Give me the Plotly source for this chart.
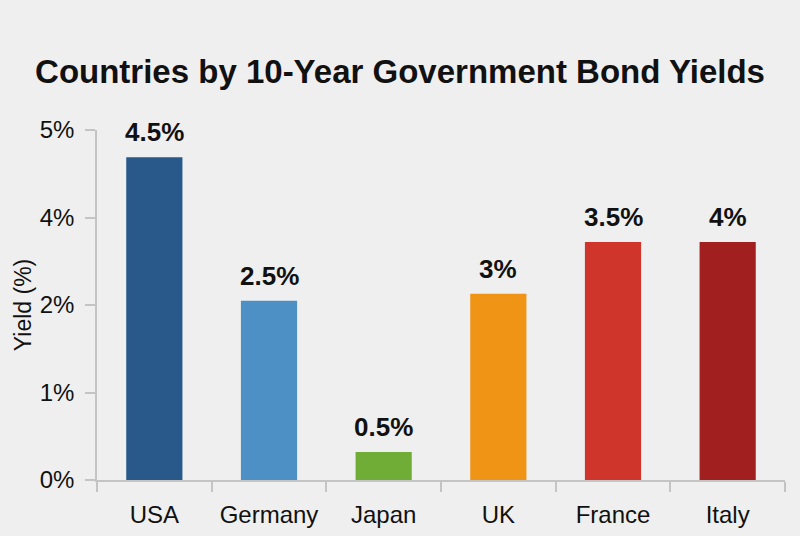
import plotly.graph_objects as go

countries = ["USA", "Germany", "Japan", "UK", "France", "Italy"]
# bar heights as drawn, in axis position units (axis tick labels are non-linear)
bar_heights = [3.69, 2.05, 0.32, 2.13, 2.72, 2.72]
value_labels = ["4.5%", "2.5%", "0.5%", "3%", "3.5%", "4%"]
colors = ["#28598a", "#4d90c6", "#70ad36", "#ef9415", "#d0352c", "#a11f1f"]
tick_positions = [0, 1, 2, 3, 4]
tick_labels = ["0%", "1%", "2%", "4%", "5%"]

FONT = "Liberation Sans, Arial, sans-serif"

fig = go.Figure()
fig.add_trace(go.Bar(
    x=countries, y=bar_heights,
    marker=dict(color=colors, line=dict(width=0)),
    hoverinfo="skip",
))

for c, h, t in zip(countries, bar_heights, value_labels):
    fig.add_annotation(x=c, y=h, text=f"<b>{t}</b>", showarrow=False,
                       yanchor="bottom", yshift=8,
                       font=dict(family=FONT, size=26, color="#111111"))

fig.update_layout(
    width=800, height=536,
    paper_bgcolor="#efefef", plot_bgcolor="#efefef",
    margin=dict(l=97, r=15, t=130, b=56),
    bargap=0.51,
    showlegend=False,
    title=dict(text="<b>Countries by 10-Year Government Bond Yields</b>",
               x=0.5, xanchor="center", y=0.866, yanchor="middle",
               font=dict(family=FONT, size=33, color="#111111")),
    font=dict(family=FONT, color="#111111"),
)

fig.update_xaxes(
    type="category", tickson="boundaries", automargin=False,
    ticks="outside", ticklen=10, tickcolor="#c4c4c4", tickwidth=1.5,
    showline=True, linecolor="#c4c4c4", linewidth=1.5,
    showgrid=False, tickfont=dict(family=FONT, size=24, color="#111111"),
    ticklabelstandoff=12,
)
fig.update_yaxes(
    range=[0, 4], tickvals=tick_positions, ticktext=tick_labels,
    automargin=False,
    ticks="outside", ticklen=10, tickcolor="#c4c4c4", tickwidth=1.5,
    showline=True, linecolor="#c4c4c4", linewidth=1.5,
    showgrid=False, zeroline=False,
    tickfont=dict(family=FONT, size=24, color="#111111"),
    ticklabelstandoff=6,
    title=dict(text="Yield (%)", font=dict(family=FONT, size=23, color="#111111"), standoff=2),
)

fig.write_html("out.html", config={"displayModeBar": False},
               post_script="document.body.style.margin='0';document.body.style.overflow='hidden';")
